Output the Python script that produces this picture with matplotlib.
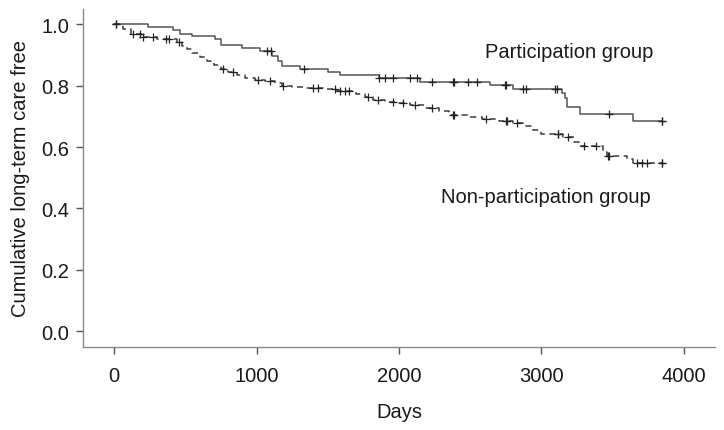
"""
Kaplan-Meier style curves: long-term care free by participation group
"""

import numpy as np
import matplotlib.pyplot as plt

plt.rcParams['font.family'] = ['Liberation Sans', 'DejaVu Sans']

# Participation group: step times (days) and survival after each step
part_time = [0, 239, 414, 463, 547, 709, 749, 896, 1025, 1107, 1151, 1177, 1305,
             1502, 1586, 1860, 2147, 2639, 2800, 3141, 3165, 3181, 3270, 3644, 3843]
part_surv = [1.0, 0.99, 0.98, 0.97, 0.962, 0.952, 0.933, 0.922, 0.913, 0.898, 0.88,
             0.864, 0.855, 0.846, 0.835, 0.826, 0.813, 0.803, 0.789, 0.777, 0.761,
             0.729, 0.709, 0.685, 0.685]
part_censor = [15, 1071, 1100, 1333, 1860, 1902, 1958, 2077, 2124, 2229, 2380, 2385,
               2485, 2550, 2744, 2750, 2872, 2890, 3095, 3110, 3476, 3843, 3848]

# Non-participation group
non_time = [0, 60, 120, 200, 300, 440, 480, 510, 545, 600, 650, 700, 750, 800, 860,
            920, 990, 1060, 1130, 1180, 1250, 1330, 1480, 1560, 1700, 1760, 1820,
            1900, 2000, 2080, 2180, 2280, 2350, 2500, 2580, 2700, 2800, 2870, 2940,
            3000, 3150, 3230, 3260, 3430, 3460, 3600, 3640, 3843]
non_surv = [1.0, 0.985, 0.968, 0.96, 0.952, 0.944, 0.93, 0.918, 0.905, 0.893, 0.88,
            0.868, 0.856, 0.845, 0.836, 0.826, 0.82, 0.815, 0.808, 0.798, 0.796,
            0.794, 0.788, 0.783, 0.772, 0.762, 0.752, 0.748, 0.742, 0.736, 0.728,
            0.718, 0.706, 0.698, 0.69, 0.684, 0.679, 0.667, 0.655, 0.643, 0.632,
            0.615, 0.602, 0.585, 0.572, 0.56, 0.549, 0.549]
non_censor = [15, 133, 182, 204, 274, 365, 386, 456, 767, 833, 1013, 1095, 1188,
              1398, 1433, 1551, 1586, 1621, 1651, 1785, 1853, 1958, 2028, 2112, 2229,
              2381, 2386, 2611, 2751, 2756, 2826, 3113, 3118, 3189, 3300, 3382, 3469,
              3474, 3668, 3703, 3738, 3843, 3848]

x_ticks = [0, 1000, 2000, 3000, 4000]
y_ticks = [0.0, 0.2, 0.4, 0.6, 0.8, 1.0]


def surv_at(times, surv, t):
    idx = np.searchsorted(times, t, side='right') - 1
    return np.array(surv)[idx]


fig = plt.figure(figsize=(7.24, 4.31), dpi=100)
ax = fig.add_axes([0.1146, 0.1926, 0.8730, 0.7842])

fs = 14.5
ax.step(part_time, part_surv, where='post', color='#555555', linewidth=1.1)
ax.step(non_time, non_surv, where='post', color='#3a3a3a', linewidth=1.1,
        linestyle=(0, (4, 3)))

ax.plot(part_censor, surv_at(part_time, part_surv, part_censor), '+',
        color='#222222', markersize=6, markeredgewidth=0.9)
ax.plot(non_censor, surv_at(non_time, non_surv, non_censor), '+',
        color='#222222', markersize=6, markeredgewidth=0.9)

ax.text(3196, 0.912, 'Participation group', fontsize=fs, ha='center', va='center',
        color='#1a1a1a')
ax.text(3028, 0.44, 'Non-participation group', fontsize=fs, ha='center',
        va='center', color='#1a1a1a')

ax.set_xlim(-218, 4218)
ax.set_ylim(-0.052, 1.05)
ax.set_xticks(x_ticks)
ax.set_yticks(y_ticks)
ax.set_yticklabels([f'{v:.1f}' for v in y_ticks])
ax.set_xlabel('Days', fontsize=fs, labelpad=12, color='#1a1a1a')
ax.set_ylabel('Cumulative long-term care free', fontsize=fs, labelpad=8,
              color='#1a1a1a')

for side in ['top', 'right']:
    ax.spines[side].set_visible(False)
for side in ['left', 'bottom']:
    ax.spines[side].set_color('#8a8a8a')
    ax.spines[side].set_linewidth(1.0)
ax.tick_params(axis='both', colors='#555555', labelcolor='#1a1a1a',
               labelsize=fs, length=5, width=1.0)
ax.tick_params(axis='x', pad=9)
ax.tick_params(axis='y', pad=5)

plt.savefig('out.png', dpi=100)
